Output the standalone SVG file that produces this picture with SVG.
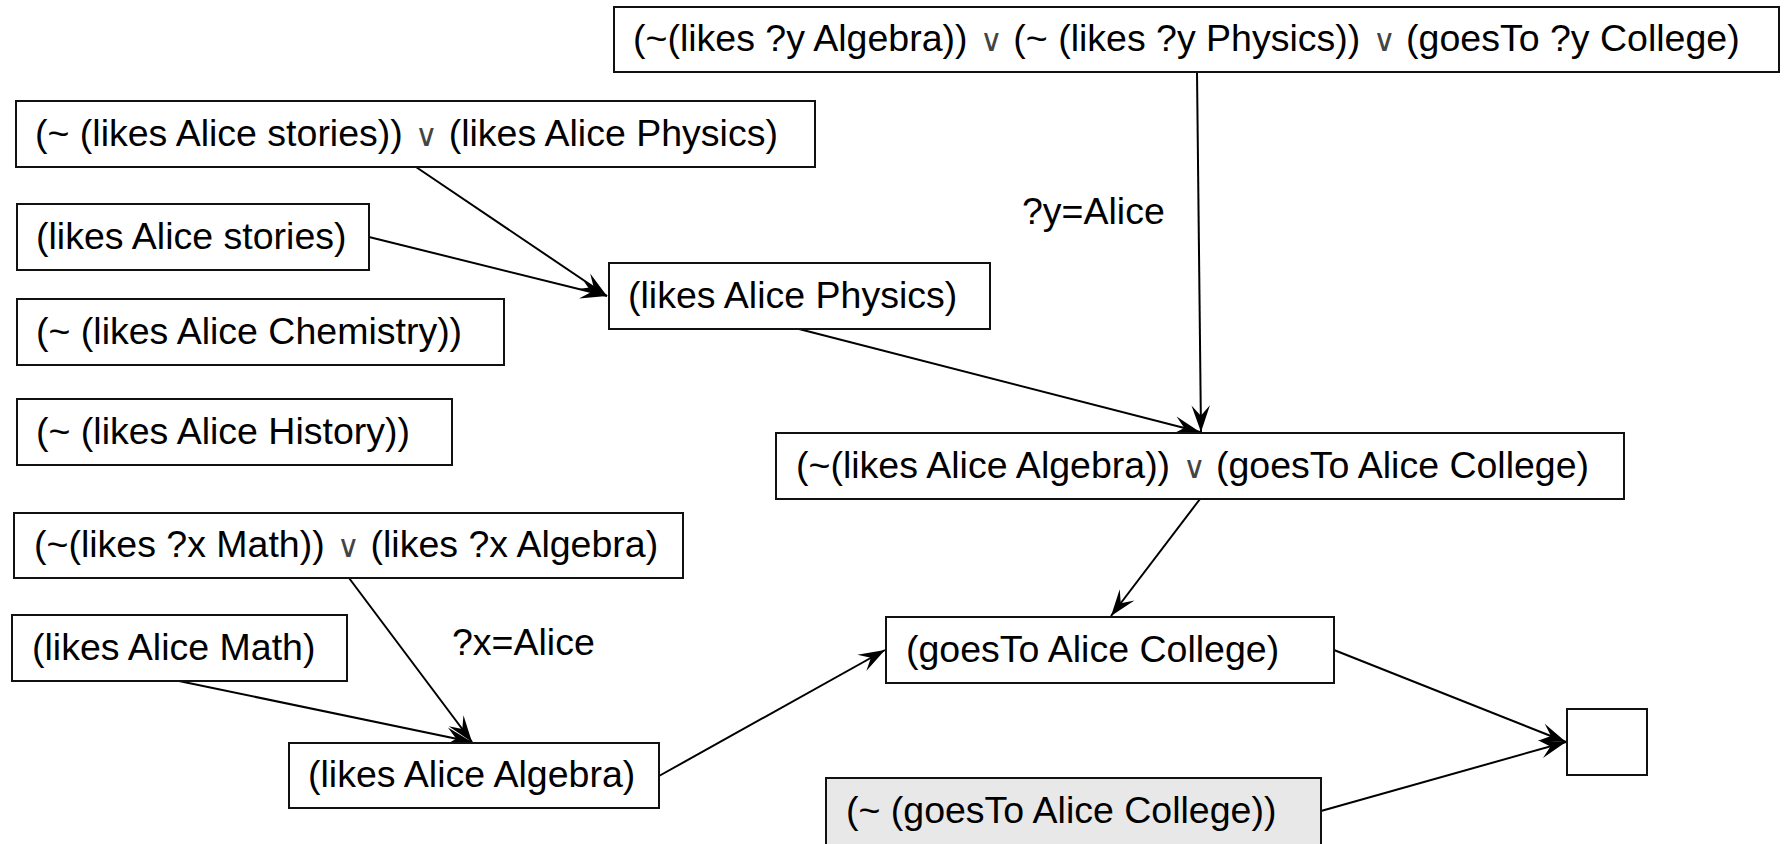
<svg xmlns="http://www.w3.org/2000/svg" width="1785" height="844" viewBox="0 0 1785 844">
<style>
  .box { fill: #ffffff; stroke: #111; stroke-width: 2; }
  .gray { fill: #e8e8e8; }
  .t { font-family: "Liberation Sans", Arial, sans-serif; font-size: 37.5px; fill: #000; }
  .or { font-family: "DejaVu Sans", sans-serif; font-weight: 200; font-size: 31px; fill: #444; }
  .e { stroke: #000; stroke-width: 2; fill: none; marker-end: url(#arr); }
</style>
<defs>
  <marker id="arr" markerUnits="userSpaceOnUse" markerWidth="30" markerHeight="24" viewBox="-24 -9 26 18" refX="0" refY="0" orient="auto">
    <path d="M0,0 L-23,-8 L-14,0 L-23,8 Z" fill="#000"/>
  </marker>
</defs>
<rect width="1785" height="844" fill="#ffffff"/>
<g id="connectors">
  <line class="e" x1="416" y1="167" x2="607" y2="296"/>
  <line class="e" x1="369" y1="237" x2="607" y2="296"/>
  <line class="e" x1="799" y1="329" x2="1200" y2="432"/>
  <line class="e" x1="1197" y1="72" x2="1201" y2="432"/>
  <line class="e" x1="349" y1="578" x2="472" y2="742"/>
  <line class="e" x1="179" y1="681" x2="472" y2="742"/>
  <line class="e" x1="659" y1="776" x2="885" y2="650"/>
  <line class="e" x1="1200" y1="499" x2="1111" y2="616"/>
  <line class="e" x1="1334" y1="650" x2="1566" y2="742"/>
  <line class="e" x1="1321" y1="811" x2="1566" y2="742"/>
  <text class="t" x="1022" y="224">?y=Alice</text>
  <text class="t" x="452" y="655">?x=Alice</text>
</g>
<g id="nA"><rect class="box" x="614" y="7" width="1165" height="65"/><text class="t" x="633" y="51">(~(likes ?y Algebra)) <tspan class="or" dx="2">∨</tspan> (~ (likes ?y Physics)) <tspan class="or" dx="2">∨</tspan> (goesTo ?y College)</text></g>
<g id="nB"><rect class="box" x="16" y="101" width="799" height="66"/><text class="t" x="35" y="146">(~ (likes Alice stories)) <tspan class="or" dx="2">∨</tspan> (likes Alice Physics)</text></g>
<g id="nC"><rect class="box" x="17" y="204" width="352" height="66"/><text class="t" x="36" y="249">(likes Alice stories)</text></g>
<g id="nD"><rect class="box" x="17" y="299" width="487" height="66"/><text class="t" x="36" y="344">(~ (likes Alice Chemistry))</text></g>
<g id="nE"><rect class="box" x="17" y="399" width="435" height="66"/><text class="t" x="36" y="444">(~ (likes Alice History))</text></g>
<g id="nF"><rect class="box" x="14" y="513" width="669" height="65"/><text class="t" x="34" y="557">(~(likes ?x Math)) <tspan class="or" dx="2">∨</tspan> (likes ?x Algebra)</text></g>
<g id="nG"><rect class="box" x="12" y="615" width="335" height="66"/><text class="t" x="32" y="660">(likes Alice Math)</text></g>
<g id="nH"><rect class="box" x="289" y="743" width="370" height="65"/><text class="t" x="308" y="787">(likes Alice Algebra)</text></g>
<g id="nI"><rect class="box" x="609" y="263" width="381" height="66"/><text class="t" x="628" y="308">(likes Alice Physics)</text></g>
<g id="nJ"><rect class="box" x="776" y="433" width="848" height="66"/><text class="t" x="796" y="478">(~(likes Alice Algebra)) <tspan class="or" dx="2">∨</tspan> (goesTo Alice College)</text></g>
<g id="nK"><rect class="box" x="886" y="617" width="448" height="66"/><text class="t" x="906" y="662">(goesTo Alice College)</text></g>
<g id="nL"><rect class="box gray" x="826" y="778" width="495" height="68"/><text class="t" x="846" y="823">(~ (goesTo Alice College))</text></g>
<g id="nM"><rect class="box" x="1567" y="709" width="80" height="66"/></g>
</svg>
